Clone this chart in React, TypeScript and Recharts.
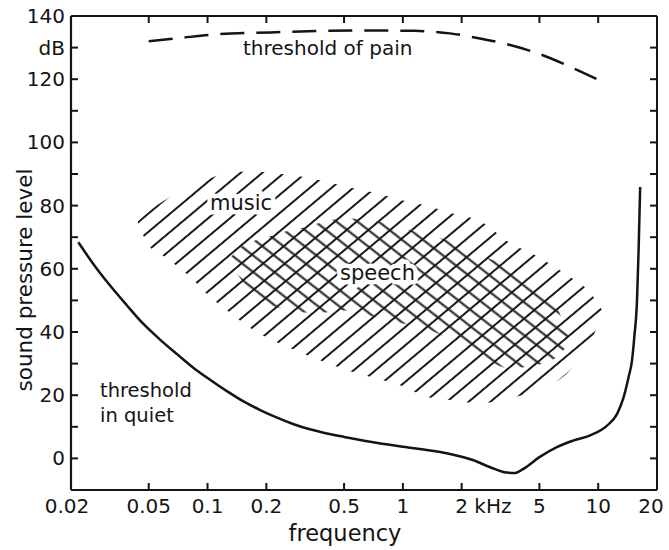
import React from 'react';
import { ComposedChart, Line, Area, XAxis, YAxis } from 'recharts';

// ---- axes ----
const freqTicks = [0.02, 0.05, 0.1, 0.2, 0.5, 1, 2, 5, 10, 20];
const freqTickLabels = ['0.02', '0.05', '0.1', '0.2', '0.5', '1', '2 kHz', '5', '10', '20'];
const levelTicks = [-10, 0, 10, 20, 30, 40, 50, 60, 70, 80, 90, 100, 110, 120, 130, 140];
const levelTickLabels = ['', '0', '', '20', '', '40', '', '60', '', '80', '', '100', '', '120', 'dB', '140'];

// ---- threshold in quiet (kHz, dB) ----
const quietFreq = [0.0218, 0.0259, 0.0317, 0.0387, 0.0467, 0.0571, 0.0698, 0.0842, 0.103, 0.1256, 0.152, 0.186, 0.227, 0.274, 0.334, 0.408, 0.5, 0.706, 1.0, 1.55, 2.0, 2.3, 2.8, 3.4, 3.76, 4.14, 5.0, 6.14, 7.5, 9.1, 11.1, 12.5, 13.5, 14.3, 14.9, 15.3, 15.8, 16.1, 16.4];
const quietLevel = [68.4, 61.7, 54.7, 48.4, 42.7, 37.6, 33.0, 28.8, 24.9, 21.3, 18.1, 15.3, 12.9, 10.9, 9.2, 7.9, 6.8, 5.1, 3.7, 2.0, 0.5, -0.6, -2.8, -4.5, -4.6, -3.3, 0.4, 3.6, 5.7, 7.3, 10.4, 14.1, 19.4, 25.7, 31, 38.3, 50, 65.8, 85.9];

// ---- threshold of pain ----
const painFreq = [0.05, 0.069, 0.115, 0.21, 0.39, 0.7, 1.14, 1.74, 2.48, 3.54, 5.04, 7.2, 10.5];
const painLevel = [132, 132.9, 134.3, 134.8, 135.3, 135.4, 135.3, 134.5, 132.9, 130.8, 127.9, 123.9, 119.2];

// ---- music area ----
const musicFreq = [0.044, 0.05, 0.06, 0.07, 0.08, 0.1, 0.13, 0.17, 0.2, 0.3, 0.4, 0.5, 0.7, 1, 1.3, 1.8, 2.5, 3.5, 5, 7, 9, 10.5];
const musicHigh = [75.0, 78.2, 81.6, 83.9, 85.8, 88.3, 90.5, 90.8, 90.5, 89.2, 87.7, 86.1, 84.2, 81.6, 80.1, 77.5, 75.0, 68.4, 63.6, 57.9, 52.8, 46.8];
const musicLow = [74.4, 67.4, 63.9, 60.8, 57.9, 51.9, 46.2, 40.8, 38.3, 33.5, 30.4, 28.2, 25.6, 22.8, 19.6, 18.4, 17.4, 19.0, 21.8, 27.2, 35.8, 46.2];

// ---- speech area ----
const speechFreq = [0.13, 0.15, 0.17, 0.2, 0.25, 0.3, 0.4, 0.5, 0.7, 1, 1.3, 1.8, 2.5, 3.5, 5, 6, 7];
const speechHigh = [63.3, 67.1, 68.7, 69.9, 71.8, 72.8, 75.0, 75.9, 75.3, 72.8, 70.9, 68.4, 64.2, 60.8, 54.4, 49.1, 39.2];
const speechLow = [62.0, 56.3, 52.5, 49.1, 47.2, 46.2, 46.2, 46.8, 44.9, 42.7, 41.1, 37.3, 32.6, 28.5, 29.7, 31.6, 35.8];

const quietData = quietFreq.map((f, i) => ({ f, v: quietLevel[i] }));
const painData = painFreq.map((f, i) => ({ f, v: painLevel[i] }));
const musicData = musicFreq.map((f, i) => ({ f, r: [musicLow[i], musicHigh[i]] }));
const speechData = speechFreq.map((f, i) => ({ f, r: [speechLow[i], speechHigh[i]] }));

const FONT = 'DejaVu Sans';
const INK = '#141414';

const BottomTick = (props: any) => {
  const { x, y, payload } = props;
  const i = freqTicks.indexOf(payload.value);
  const label = freqTickLabels[i];
  const inner = i > 0 && i < freqTicks.length - 1;
  let tx = x;
  let anchor: any = 'middle';
  if (label === '2 kHz') { tx = x - 6.4; anchor = 'start'; }
  if (i === 0) tx = x - 4;
  if (i === freqTicks.length - 1) tx = x - 6;
  return (
    <g>
      {inner && <line x1={x} x2={x} y1={y} y2={y - 7} stroke={INK} strokeWidth={2} />}
      <text x={tx} y={y + 23} textAnchor={anchor} fontFamily={FONT} fontSize={20} fill={INK}>{label}</text>
    </g>
  );
};

const TopTick = (props: any) => {
  const { x, y, payload } = props;
  const i = freqTicks.indexOf(payload.value);
  const inner = i > 0 && i < freqTicks.length - 1;
  return <g>{inner && <line x1={x} x2={x} y1={y} y2={y + 7} stroke={INK} strokeWidth={2} />}</g>;
};

const LeftTick = (props: any) => {
  const { x, y, payload } = props;
  const i = levelTicks.indexOf(payload.value);
  const label = levelTickLabels[i];
  const inner = i > 0 && i < levelTicks.length - 1;
  return (
    <g>
      {inner && <line x1={x} x2={x + 7} y1={y} y2={y} stroke={INK} strokeWidth={2} />}
      <text x={x - 6} y={y + 7} textAnchor="end" fontFamily={FONT} fontSize={20} fill={INK}>{label}</text>
    </g>
  );
};

const RightTick = (props: any) => {
  const { x, y, payload } = props;
  const i = levelTicks.indexOf(payload.value);
  const inner = i > 0 && i < levelTicks.length - 1;
  return <g>{inner && <line x1={x} x2={x - 7} y1={y} y2={y} stroke={INK} strokeWidth={2} />}</g>;
};

const halo = { stroke: '#fff', strokeWidth: 9, paintOrder: 'stroke', strokeLinejoin: 'round' } as any;

export default function App() {
  return (
    <div style={{ position: 'absolute', left: 0, top: 0, width: 669, height: 550, background: '#fff' }}>
      <ComposedChart width={669} height={550} margin={{ top: 15, right: 11, bottom: 30, left: 11 }}>
        <defs>
          <pattern id="hatchUp" patternUnits="userSpaceOnUse" width="20" height="14" patternTransform="rotate(-40)">
            <line x1="0" y1="7" x2="20" y2="7" stroke="#1a1a1a" strokeWidth="2" />
          </pattern>
          <pattern id="hatchDown" patternUnits="userSpaceOnUse" width="20" height="13" patternTransform="rotate(38)">
            <line x1="0" y1="6.5" x2="20" y2="6.5" stroke="#1a1a1a" strokeWidth="2" />
          </pattern>
        </defs>
        <XAxis xAxisId="b" dataKey="f" type="number" scale="log" domain={[0.02, 20]} allowDataOverflow ticks={freqTicks}
          orientation="bottom" height={30} tickSize={0} tickMargin={0} interval={0} tick={<BottomTick />}
          axisLine={{ stroke: INK, strokeWidth: 2 }} tickLine={false} />
        <XAxis xAxisId="t" dataKey="f" type="number" scale="log" domain={[0.02, 20]} allowDataOverflow ticks={freqTicks}
          orientation="top" height={1} tickSize={0} tickMargin={0} interval={0} tick={<TopTick />}
          axisLine={{ stroke: INK, strokeWidth: 2 }} tickLine={false} />
        <YAxis yAxisId="l" type="number" domain={[-10, 140]} allowDataOverflow ticks={levelTicks} orientation="left"
          width={60} tickSize={0} tickMargin={0} interval={0} tick={<LeftTick />}
          axisLine={{ stroke: INK, strokeWidth: 2.2 }} tickLine={false} />
        <YAxis yAxisId="r" type="number" domain={[-10, 140]} allowDataOverflow ticks={levelTicks} orientation="right"
          width={1} tickSize={0} tickMargin={0} interval={0} tick={<RightTick />}
          axisLine={{ stroke: INK, strokeWidth: 2 }} tickLine={false} />

        <Area xAxisId="b" yAxisId="l" data={musicData} dataKey="r" type="monotone" stroke="none"
          fill="url(#hatchUp)" fillOpacity={1} isAnimationActive={false} />
        <Area xAxisId="b" yAxisId="l" data={speechData} dataKey="r" type="monotone" stroke="none"
          fill="url(#hatchDown)" fillOpacity={1} isAnimationActive={false} />
        <Line xAxisId="b" yAxisId="l" data={quietData} dataKey="v" type="monotone" stroke={INK} strokeWidth={2.5}
          dot={false} isAnimationActive={false} />
        <Line xAxisId="b" yAxisId="l" data={painData} dataKey="v" type="monotone" stroke={INK} strokeWidth={2.5}
          strokeDasharray="24 12" dot={false} isAnimationActive={false} />
      </ComposedChart>
      <svg width={669} height={550} style={{ position: 'absolute', left: 0, top: 0, pointerEvents: 'none' }}>
        <text x={243} y={55} fontFamily={FONT} fontSize={20} fill={INK}>threshold of pain</text>
        <text x={210} y={210} fontFamily={FONT} fontSize={21} fill={INK} {...halo}>music</text>
        <text x={340} y={280} fontFamily={FONT} fontSize={21} fill={INK} {...halo}>speech</text>
        <text x={100} y={397} fontFamily={FONT} fontSize={19.5} fill={INK}>threshold</text>
        <text x={100} y={422} fontFamily={FONT} fontSize={19.5} fill={INK}>in quiet</text>
        <text x={32} y={280} transform="rotate(-90 32 280)" textAnchor="middle" fontFamily={FONT} fontSize={21.5} fill={INK}>sound pressure level</text>
        <text x={345} y={541} textAnchor="middle" fontFamily={FONT} fontSize={22.5} fill={INK}>frequency</text>
      </svg>
    </div>
  );
}
